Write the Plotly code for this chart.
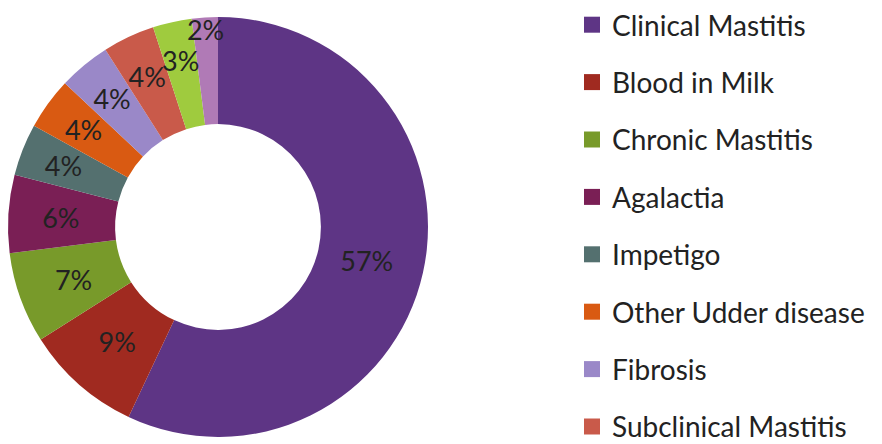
import plotly.graph_objects as go

categories = ["Clinical Mastitis", "Blood in Milk", "Chronic Mastitis", "Agalactia",
              "Impetigo", "Other Udder disease", "Fibrosis", "Subclinical Mastitis",
              "Teat Injury", "Udder Oedema"]
values = [57, 9, 7, 6, 4, 4, 4, 4, 3, 2]
colors = ["#5e3585", "#a02a20", "#789a2a", "#7a1f55", "#54706f",
          "#d95a12", "#9a88c8", "#c95a4a", "#9fcb3e", "#b07ab6"]
legend_count = 8  # only the first eight entries are visible in the original
outer_label_idx = [9]  # the thinnest slice's label sits further out, as in the original

FONT = "Lato"
W, H = 882, 444
CX, CY, R = 218, 227, 210
total = sum(values)
pct = [f"{round(100 * v / total)}%" for v in values]


def dom(r):
    return dict(x=[(CX - r) / W, (CX + r) / W], y=[1 - (CY + r) / H, 1 - (CY - r) / H])


clear = ["rgba(0,0,0,0)"] * len(values)
fig = go.Figure()
# ring
fig.add_trace(go.Pie(
    labels=categories, values=values, sort=False, direction="clockwise", rotation=0,
    hole=0.49, marker=dict(colors=colors, line=dict(width=0)),
    textinfo="none", showlegend=False, domain=dom(R),
))
# label layers (transparent, same angles)
for idxs, rad, hole in [([i for i in range(len(values)) if i not in outer_label_idx], 187, 0.63),
                        (outer_label_idx, 210, 0.8)]:
    fig.add_trace(go.Pie(
        labels=categories, values=values, sort=False, direction="clockwise", rotation=0,
        hole=hole, marker=dict(colors=clear, line=dict(width=0)),
        text=[pct[i] if i in idxs else "" for i in range(len(values))],
        texttemplate="%{text}", textposition="inside",
        insidetextorientation="horizontal",
        textfont=dict(family=FONT, size=27, color="#222222"),
        showlegend=False, hoverinfo="skip", domain=dom(rad),
    ))

for i in range(legend_count):
    fig.add_trace(go.Scatter(
        x=[None], y=[None], mode="markers", name=categories[i],
        marker=dict(symbol="square", size=17, color=colors[i]),
        legendgroup=f"g{i}", showlegend=True,
    ))

fig.update_layout(
    width=W, height=H,
    margin=dict(l=0, r=0, t=0, b=0),
    paper_bgcolor="white", plot_bgcolor="white",
    xaxis=dict(visible=False), yaxis=dict(visible=False),
    uniformtext=dict(minsize=27, mode="show"),
    legend=dict(x=572 / W, xanchor="left", y=1.0, yanchor="top",
                font=dict(family=FONT, size=28, color="#222222"),
                tracegroupgap=18, itemsizing="trace", borderwidth=0,
                maxheight=600),
    showlegend=True,
)

fig.write_html("out.html")
